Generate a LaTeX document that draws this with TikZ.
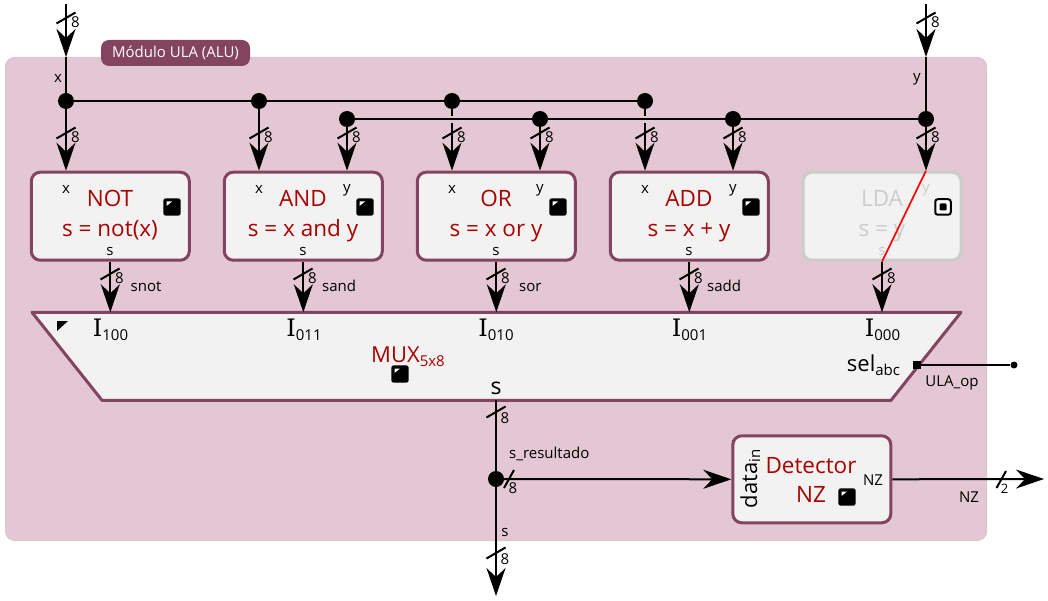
\documentclass[tikz,border=0pt]{standalone}
\usepackage{fontspec}
\setmainfont{Open Sans}
\newfontfamily\slabfont{DejaVu Serif}
\usetikzlibrary{arrows.meta}
\definecolor{plum}{HTML}{84435F}
\definecolor{panelbg}{HTML}{E3C8D3}
\definecolor{panelline}{HTML}{DCC6CF}
\definecolor{boxbg}{HTML}{F2F2F2}
\definecolor{redtxt}{HTML}{AA0000}
\definecolor{ghost}{HTML}{CCCCCC}
\newcommand{\fs}[1]{\fontsize{#1}{#1}\selectfont}
\newcommand{\Ilab}[1]{{\slabfont\fs{24}I}\raisebox{-4pt}{\fs{15}#1}}
\tikzset{
  x=1pt,y=-1pt,
  wire/.style={line width=2pt,black},
  buswire/.style={wire,-{Stealth[length=28pt,width=19pt,inset=9pt]}},
  ticks/.style={line width=2pt,black},
  dotj/.style={circle,fill=black,inner sep=0pt,minimum size=16pt},
  sig/.style={font=\fs{15},inner sep=0pt,text=black,anchor=base},
  num/.style={font=\fs{15},inner sep=0pt,text=black},
  opbox/.style={draw=plum,line width=3pt,fill=boxbg,rounded corners=9pt,minimum width=158pt,minimum height=88pt,inner sep=0pt},
  optext/.style={font=\fs{22.5},text=redtxt,inner sep=0pt,anchor=base},
  ghosttext/.style={font=\fs{22.5},text=ghost,inner sep=0pt,anchor=base},
}
% #1 name, #2 x, #3 y, #4 label
\newcommand{\tickmark}[4]{%
  \draw[ticks] (#2-9.5,#3+5.5) -- (#2+9.5,#3-5.5);
  \node[num] (#1) at (#2+9.5,#3+4.5) {#4};}
\newcommand{\icon}[3]{%
  \fill[black,rounded corners=2.5pt] (#2-8.7,#3-8.7) rectangle (#2+8.7,#3+8.7);
  \fill[white] (#2-5.5,#3-5.5) -- (#2,#3-5.5) -- (#2-5.5,#3-1) -- cycle;
  \coordinate (#1) at (#2,#3);}
\begin{document}
\begin{tikzpicture}
\useasboundingbox (0,0) rectangle (1048,601);
% panel
\node[draw=panelline,line width=1pt,fill=panelbg,rounded corners=9pt,minimum width=981pt,minimum height=483pt,inner sep=0pt,anchor=north west] (panel) at (5,57) {};
\node[fill=plum,rounded corners=8pt,minimum width=149pt,minimum height=26pt,inner sep=0pt,text=white,font=\fs{15}] (title) at (175.5,53) {Módulo ULA (ALU)};
% top coordinates
\coordinate (xin) at (66,4);
\coordinate (yin) at (926,4);
\node[dotj] (jx0) at (66,101) {};
\node[dotj] (jx1) at (259,101) {};
\node[dotj] (jx2) at (452,101) {};
\node[dotj] (jx3) at (645,101) {};
\node[dotj] (jy0) at (347,119) {};
\node[dotj] (jy1) at (540,119) {};
\node[dotj] (jy2) at (733,119) {};
\node[dotj] (jy3) at (926,119) {};
% boxes
\node[opbox] (bnot) at (110.3,216.2) {};
\node[opbox] (band) at (303.3,216.2) {};
\node[opbox] (bor) at (496.3,216.2) {};
\node[opbox] (badd) at (689.3,216.2) {};
\node[opbox,draw=ghost] (blda) at (882,216.2) {};
% MUX
\draw[draw=plum,line width=3pt,fill=boxbg,line join=round] (32,312.3) coordinate (mtl) -- (961,312.3) coordinate (mtr) -- (891,400.3) coordinate (mbr) -- (102,400.3) coordinate (mbl) -- cycle;
\fill[black] (57,321) -- (68,321) -- (57,331) -- cycle;
% detector
\node[opbox,minimum height=87pt] (bdet) at (811.8,479.3) {};
% wires
\draw[buswire] (xin) -- (66,57) coordinate (xtip);
\draw[wire] (xtip) -- (jx0);
\draw[buswire] (yin) -- (926,57) coordinate (ytip);
\draw[wire] (ytip) -- (jy3);
\draw[wire] (jx0) -- (jx3);
\draw[buswire] (jx0) -- (jx0 |- bnot.north);
\draw[buswire] (jx1) -- (jx1 |- band.north);
\draw[buswire] (jy0) -- (jy0 |- band.north);
\draw[buswire] (jx2) -- (jx2 |- bor.north);
\draw[buswire] (jy1) -- (jy1 |- bor.north);
\draw[buswire] (jx3) -- (jx3 |- badd.north);
\draw[buswire] (jy2) -- (jy2 |- badd.north);
\draw[buswire] (jy3) -- (jy3 |- blda.north);
% hop of the x drops over the y bus
\fill[panelbg] (449,115.7) rectangle (455,122.7);
\fill[panelbg] (642,115.7) rectangle (648,122.7);
\draw[wire] (jy0) -- (jy3);
\draw[buswire] (bnot.south) -- (bnot.south |- mtl);
\draw[buswire] (band.south) -- (band.south |- mtl);
\draw[buswire] (bor.south) -- (bor.south |- mtl);
\draw[buswire] (badd.south) -- (badd.south |- mtl);
\draw[buswire] (blda.south) -- (blda.south |- mtl);
% ticks
\tickmark{t1}{66}{18}{8}
\tickmark{t2}{926}{18}{8}
\tickmark{t3}{66}{133}{8}
\tickmark{t4}{259}{133}{8}
\tickmark{t5}{347}{133}{8}
\tickmark{t6}{452}{133}{8}
\tickmark{t7}{540}{133}{8}
\tickmark{t8}{645}{133}{8}
\tickmark{t9}{733}{133}{8}
\tickmark{t10}{926}{133}{8}
\tickmark{t11}{110}{274}{8}
\tickmark{t12}{303}{274}{8}
\tickmark{t13}{496}{274}{8}
\tickmark{t14}{689}{274}{8}
\tickmark{t15}{882}{274}{8}
% box text
\node[optext] (n1) at (110,206.7) {NOT};
\node[optext] (n2) at (110,237) {s = not(x)};
\node[sig] (n3) at (66,194) {x};
\node[sig] (n4) at (110,256) {s};
\icon{i1}{172}{207}
\node[optext] (a1) at (303,206.7) {AND};
\node[optext] (a2) at (303,237) {s = x and y};
\node[sig] (a3) at (259,194) {x};
\node[sig] (a4) at (347,193) {y};
\node[sig] (a5) at (303,256) {s};
\icon{i2}{365}{207}
\node[optext] (o1) at (496,206.7) {OR};
\node[optext] (o2) at (496,237) {s = x or y};
\node[sig] (o3) at (452,194) {x};
\node[sig] (o4) at (540,193) {y};
\node[sig] (o5) at (496,256) {s};
\icon{i3}{558}{207}
\node[optext] (d1) at (689,206.7) {ADD};
\node[optext] (d2) at (689,237) {s = x + y};
\node[sig] (d3) at (645,194) {x};
\node[sig] (d4) at (733,193) {y};
\node[sig] (d5) at (689,256) {s};
\icon{i4}{751}{207}
\node[ghosttext] (l1) at (882,206.7) {LDA};
\node[ghosttext] (l2) at (882,237) {s = y};
\node[sig,text=ghost] (l3) at (926,193) {y};
\node[sig,text=ghost] (l4) at (882,256) {s};
\node[draw=black,line width=2pt,fill=white,rounded corners=2.5pt,minimum size=15.5pt,inner sep=0pt] (i5) at (943,207) {};
\node[fill=black,rounded corners=1pt,minimum size=7pt,inner sep=0pt] (i5c) at (943,207) {};
\draw[red,line width=1.7pt] (blda.south) -- (jy3 |- blda.north);
% signal labels
\node[sig] (xl) at (58,83) {x};
\node[sig] (yl) at (917,81.5) {y};
\node[sig,anchor=base west] (s1) at (130.5,291.5) {snot};
\node[sig,anchor=base west] (s2) at (322,291.5) {sand};
\node[sig,anchor=base west] (s3) at (519,291) {sor};
\node[sig,anchor=base west] (s4) at (707,291) {sadd};
% mux text
\node[inner sep=0pt,anchor=base] (m1) at (110.5,336.7) {\Ilab{100}};
\node[inner sep=0pt,anchor=base] (m2) at (304,336.7) {\Ilab{011}};
\node[inner sep=0pt,anchor=base] (m3) at (496,336.7) {\Ilab{010}};
\node[inner sep=0pt,anchor=base] (m4) at (689.5,336.7) {\Ilab{001}};
\node[inner sep=0pt,anchor=base] (m5) at (882.5,336.7) {\Ilab{000}};
\node[inner sep=0pt,anchor=base,text=redtxt] (m6) at (408,362.7) {\fs{22}MUX\raisebox{-3.5pt}{\fs{15}5x8}};
\icon{i6}{400}{374}
\node[inner sep=0pt,font=\fs{23},anchor=base] (m7) at (496,394) {s};
\node[inner sep=0pt,anchor=base] (m8) at (873.5,371.7) {\fs{22}sel\raisebox{-4pt}{\fs{15}abc}};
% select
\node[fill=black,inner sep=0pt,minimum size=8pt] (sq) at (917,365) {};
\node[circle,fill=black,inner sep=0pt,minimum size=7pt] (sd) at (1014,365) {};
\draw[wire] (sq) -- (sd);
\node[sig] (ul) at (952,386.5) {ULA\_op};
% output
\node[dotj] (js) at (496,479) {};
\coordinate (send) at (496,596);
\draw[wire] (mbl -| js) -- (js);
\draw[buswire] (js) -- (send);
\draw[buswire] (js) -- (bdet.west);
\draw[ticks] (486.5,417.5) -- (505.5,406.5);
\node[num] (t16) at (505,418) {8};
\draw[ticks] (486.5,558.5) -- (505.5,547.5);
\node[num] (t17) at (505,559) {8};
\draw[ticks] (504,488) -- (514,470);
\node[num] (t18) at (513,488) {8};
\node[sig,anchor=base west] (s5) at (509,458) {s\_resultado};
\node[sig] (s6) at (505,536.7) {s};
% detector text
\node[inner sep=0pt,rotate=90,anchor=base] (d0) at (757,479) {\fs{22}data\raisebox{-3pt}{\fs{15}in}};
\node[optext] (e1) at (811,473) {Detector};
\node[optext] (e2) at (811,502) {NZ};
\icon{i7}{847}{497}
\node[sig] (e3) at (873,485) {NZ};
\coordinate (nzend) at (1044,479);
\draw[buswire] (bdet.east) -- (nzend);
\draw[ticks] (996.5,488) -- (1006,471);
\node[num,font=\fs{13}] (t19) at (1004.5,489) {2};
\node[sig] (e4) at (969,502.7) {NZ};
\end{tikzpicture}
\end{document}
